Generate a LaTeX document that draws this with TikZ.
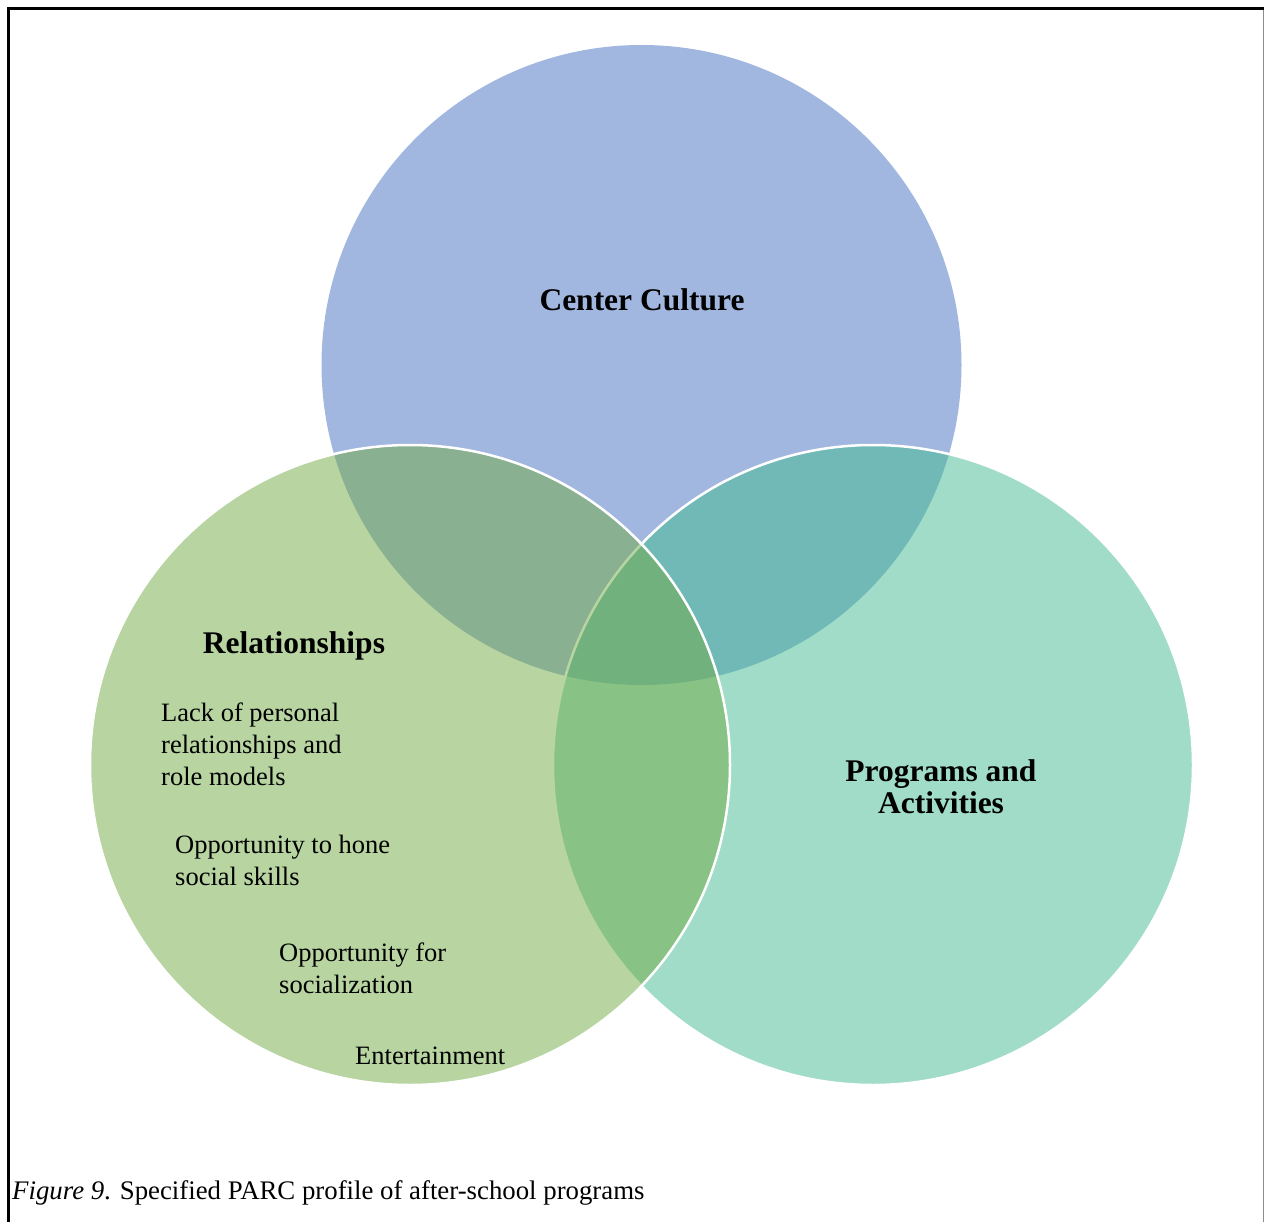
\documentclass[tikz,border=0pt]{standalone}
\usepackage{fontspec}
\setmainfont{Liberation Serif}
\definecolor{ccblue}{RGB}{68,112,193}
\definecolor{ccgreen}{RGB}{113,171,69}
\definecolor{ccteal}{RGB}{67,187,145}
\begin{document}
\begin{tikzpicture}[x=1pt,y=-1pt,
  venn/.style={circle, minimum size=640pt, inner sep=0pt, outer sep=0pt, fill opacity=0.5, draw opacity=1},
  outline/.style={draw=white, line width=2.5pt},
  lbl/.style={font=\fontsize{31.5}{32}\selectfont\bfseries, inner sep=0pt, align=center, anchor=base},
  item/.style={font=\fontsize{26.5}{32}\selectfont, inner sep=0pt, align=left, anchor=base west}]
\useasboundingbox (0,0) rectangle (1264,1222);
\fill[white] (0,0) rectangle (1264,1222);
% circles
\node[venn, fill=ccblue] (top) at (641.5,365) {};
\node[venn, fill=ccteal, outline] (right) at (873,765) {};
\node[venn, fill=ccgreen, outline] (left) at (410,765) {};
% labels (anchor = baseline of the last line)
\node[lbl] (cc) at (642,311) {Center Culture};
\node[lbl] (rel) at (294,653) {Relationships};
\node[lbl] (pa) at (941,813) {Programs and\\Activities};
\node[item] (i1) at (161,785) {Lack of personal\\relationships and\\role models};
\node[item] (i2) at (175,885) {Opportunity to hone\\social skills};
\node[item] (i3) at (279,993) {Opportunity for\\socialization};
\node[item] (i4) at (355,1064) {Entertainment};
% caption
\node[font=\fontsize{26.8}{30}\selectfont, inner sep=0pt, anchor=base west] (cap) at (12,1199) {{\itshape Figure 9}. Specified PARC profile of after-school programs};
% frame
\coordinate (tl) at (8.7,8.2);
\coordinate (tr) at (1264,8.2);
\coordinate (bl) at (8.7,1222);
\coordinate (rt) at (1263.3,8.2);
\coordinate (rb) at (1263.3,1222);
\draw[black!45, line width=1pt] (rt) -- (rb);
\draw[black, line width=3pt] (tl) -- (tr);
\draw[black, line width=2.6pt] ([yshift=1.5pt]tl) -- (bl);
\end{tikzpicture}
\end{document}
